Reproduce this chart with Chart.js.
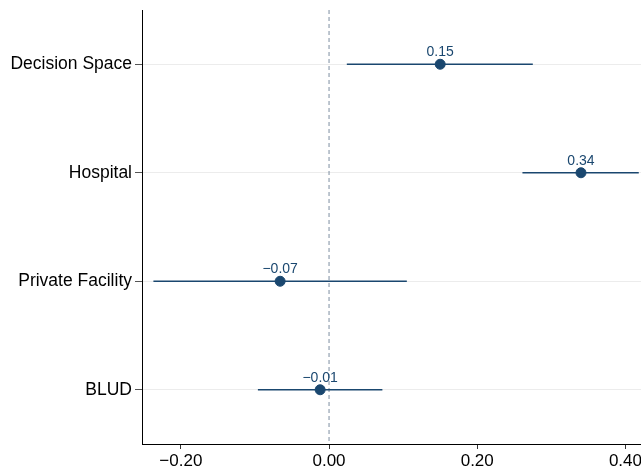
<!DOCTYPE html>
<html>
<head>
<meta charset="utf-8">
<script src="https://cdn.jsdelivr.net/npm/chart.js@4.4.1/dist/chart.umd.min.js"></script>
<style>
  html, body { margin: 0; padding: 0; background: #fff; }
  #wrap { width: 641px; height: 471px; position: relative; }
</style>
</head>
<body>
<div id="wrap"><canvas id="coefChart"></canvas></div>
<script>
// coefficient estimates with confidence intervals
const categories = ['Decision Space', 'Hospital', 'Private Facility', 'BLUD'];
const estimates = [0.15, 0.34, -0.066, -0.012];
const lower = [0.024, 0.261, -0.237, -0.096];
const upper = [0.275, 0.418, 0.105, 0.072];
const pointLabels = ['0.15', '0.34', '\u22120.07', '\u22120.01'];
const xTicks = [-0.2, 0, 0.2, 0.4];

const navy = 'rgb(26, 71, 111)';
const fontFamily = '"Liberation Sans", Arial, Helvetica, sans-serif';

// one line dataset per confidence interval
const ciSets = categories.map((cat, i) => ({
  type: 'line',
  label: cat + ' CI',
  data: [{ x: lower[i], y: i + 1 }, { x: upper[i], y: i + 1 }],
  borderColor: navy,
  borderWidth: 1.6,
  pointRadius: 0,
  fill: false,
  order: 1,
}));

const pointSet = {
  type: 'scatter',
  label: 'Estimate',
  data: estimates.map((v, i) => ({ x: v, y: i + 1 })),
  backgroundColor: navy,
  borderColor: navy,
  pointRadius: 5,
  order: 0,
};

const zeroLine = {
  type: 'line',
  label: 'zero',
  data: [{ x: 0, y: 0.5 }, { x: 0, y: 4.5 }],
  borderColor: '#7d8ea0',
  borderWidth: 1,
  borderDash: [4, 3],
  pointRadius: 0,
  order: 2,
};

// value labels above the points
const valueLabels = {
  id: 'valueLabels',
  afterDatasetsDraw(chart) {
    const meta = chart.getDatasetMeta(chart.data.datasets.indexOf(pointSet));
    const ctx = chart.ctx;
    ctx.save();
    ctx.fillStyle = navy;
    ctx.font = '14px ' + fontFamily;
    ctx.textAlign = 'center';
    ctx.textBaseline = 'alphabetic';
    meta.data.forEach((pt, i) => {
      ctx.fillText(pointLabels[i], pt.x, pt.y - 8);
    });
    ctx.restore();
  }
};

// drop the extra room Chart.js keeps for half tick labels
function noPad(scale) {
  scale.paddingLeft = 0;
  scale.paddingRight = 0;
  scale.paddingTop = 0;
  scale.paddingBottom = 0;
}

new Chart(document.getElementById('coefChart').getContext('2d'), {
  data: { datasets: [zeroLine, ...ciSets, pointSet] },
  options: {
    responsive: true,
    maintainAspectRatio: false,
    animation: false,
    layout: { padding: { top: 10, right: 0, bottom: 0, left: 0 }, autoPadding: false },
    plugins: {
      legend: { display: false },
      tooltip: { enabled: false },
    },
    scales: {
      x: {
        type: 'linear',
        min: -0.2524,
        max: 0.421,
        afterBuildTicks: (scale) => { scale.ticks = xTicks.map(v => ({ value: v })); },
        afterFit: (scale) => { scale.height = 27; noPad(scale); },
        grid: { drawOnChartArea: false, drawTicks: true, tickLength: 5, tickColor: '#333' },
        border: { display: true, color: '#000', width: 1 },
        ticks: {
          color: '#000',
          padding: 2,
          maxRotation: 0,
          font: { size: 17, family: fontFamily },
          callback: (v) => v.toFixed(2).replace('-', '\u2212'),
        },
      },
      y: {
        type: 'linear',
        min: 0.5,
        max: 4.5,
        reverse: true,
        afterBuildTicks: (scale) => { scale.ticks = categories.map((c, i) => ({ value: i + 1 })); },
        afterFit: (scale) => { scale.width = 142; noPad(scale); },
        grid: { color: '#ececec', lineWidth: 1, drawTicks: true, tickLength: 7, tickColor: '#555' },
        border: { display: true, color: '#000', width: 1 },
        ticks: {
          color: '#000',
          padding: 3,
          font: { size: 17.5, family: fontFamily },
          callback: (v) => categories[v - 1],
        },
      },
    },
  },
  plugins: [valueLabels],
});
</script>
</body>
</html>
